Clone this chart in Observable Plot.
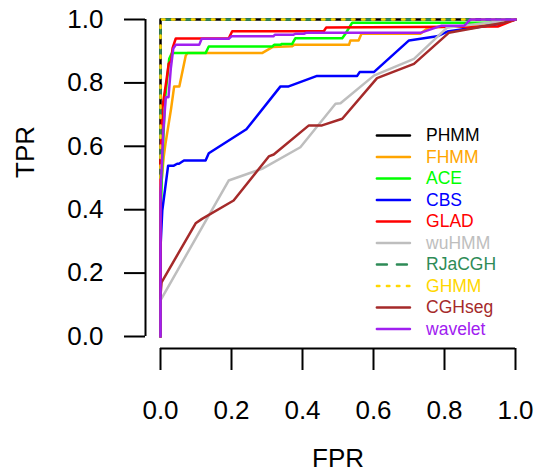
<!DOCTYPE html>
<html>
<head>
<meta charset="utf-8">
<script src="https://cdn.jsdelivr.net/npm/d3@7"></script>
<script src="https://cdn.jsdelivr.net/npm/@observablehq/plot@0.6"></script>
<style>
  html, body { margin: 0; padding: 0; background: #fff; }
</style>
</head>
<body>
<div id="chart"></div>
<script>
// ---- data ----
const methods = ["PHMM", "FHMM", "ACE", "CBS", "GLAD", "wuHMM", "RJaCGH", "GHMM", "CGHseg", "wavelet"];
const ticks = [0, 0.2, 0.4, 0.6, 0.8, 1.0];

const phmmFPR = [0, 0, 1];
const phmmTPR = [0.5, 1, 1];

const fhmmFPR = [0, 0, 0.009, 0.014, 0.03, 0.0385, 0.053, 0.071, 0.076, 0.286, 0.315, 0.371, 0.376, 0.531, 0.535, 0.558, 0.566, 0.732, 0.755, 0.9, 0.93, 0.96, 1];
const fhmmTPR = [0, 0.45, 0.566, 0.608, 0.72, 0.789, 0.789, 0.886, 0.894, 0.894, 0.913, 0.916, 0.92, 0.92, 0.934, 0.934, 0.955, 0.955, 0.975, 0.98, 0.99, 0.995, 1];

const aceFPR = [0, 0, 0.005, 0.013, 0.0245, 0.032, 0.127, 0.136, 0.315, 0.32, 0.338, 0.342, 0.371, 0.38, 0.512, 0.521, 0.54, 0.93, 0.95, 1];
const aceTPR = [0, 0.35, 0.55, 0.751, 0.876, 0.894, 0.894, 0.915, 0.915, 0.92, 0.92, 0.923, 0.923, 0.941, 0.941, 0.955, 0.99, 0.99, 1, 1];

const cbsFPR = [0, 0, 0.005, 0.0215, 0.0375, 0.047, 0.052, 0.066, 0.127, 0.136, 0.242, 0.338, 0.361, 0.441, 0.554, 0.561, 0.601, 0.70, 0.779, 0.808, 0.95, 1];
const cbsTPR = [0, 0.28, 0.397, 0.539, 0.539, 0.545, 0.545, 0.555, 0.555, 0.578, 0.654, 0.789, 0.789, 0.822, 0.822, 0.834, 0.834, 0.934, 0.947, 0.962, 0.985, 1];

const gladFPR = [0, 0, 0.005, 0.017, 0.023, 0.03, 0.034, 0.043, 0.192, 0.202, 0.46, 0.467, 0.95, 1];
const gladTPR = [0, 0.55, 0.72, 0.81, 0.86, 0.87, 0.91, 0.94, 0.94, 0.963, 0.963, 0.975, 0.978, 1];

const wuhmmFPR = [0, 0, 0.192, 0.286, 0.394, 0.493, 0.507, 0.601, 0.714, 0.808, 1];
const wuhmmTPR = [0, 0.114, 0.492, 0.529, 0.597, 0.734, 0.736, 0.823, 0.876, 0.975, 1];

const rjacghFPR = [0, 0, 1];
const rjacghTPR = [0.5, 1, 1];

const ghmmFPR = [0, 0, 1];
const ghmmTPR = [0.5, 1, 1];

const cghsegFPR = [0, 0, 0.003, 0.099, 0.117, 0.206, 0.305, 0.319, 0.418, 0.455, 0.512, 0.61, 0.714, 0.812, 0.967, 1];
const cghsegTPR = [0, 0.13, 0.171, 0.357, 0.371, 0.429, 0.568, 0.574, 0.666, 0.666, 0.687, 0.815, 0.86, 0.958, 0.99, 1];

const waveletFPR = [0, 0, 0.008, 0.015, 0.0225, 0.029, 0.036, 0.043, 0.109, 0.116, 0.192, 0.2, 0.318, 0.322, 0.375, 0.38, 0.404, 0.41, 0.732, 0.79, 0.855, 0.873, 1];
const waveletTPR = [0, 0.45, 0.65, 0.755, 0.755, 0.845, 0.908, 0.92, 0.92, 0.939, 0.939, 0.947, 0.947, 0.952, 0.952, 0.955, 0.955, 0.958, 0.958, 0.98, 0.98, 1, 1];

// ---- styles ----
const seriesData = {
  PHMM: [phmmFPR, phmmTPR], FHMM: [fhmmFPR, fhmmTPR], ACE: [aceFPR, aceTPR],
  CBS: [cbsFPR, cbsTPR], GLAD: [gladFPR, gladTPR], wuHMM: [wuhmmFPR, wuhmmTPR],
  RJaCGH: [rjacghFPR, rjacghTPR], GHMM: [ghmmFPR, ghmmTPR],
  CGHseg: [cghsegFPR, cghsegTPR], wavelet: [waveletFPR, waveletTPR]
};
const colors = {
  PHMM: "#000000", FHMM: "#FFA500", ACE: "#00FF00", CBS: "#0000FF", GLAD: "#FF0000",
  wuHMM: "#BEBEBE", RJaCGH: "#2E8B57", GHMM: "#FFD700", CGHseg: "#A52A2A", wavelet: "#A020F0"
};
const dashes = { RJaCGH: "10,10", GHMM: "2.5,7.5" };
const LW = 2.5;
const font = "'Liberation Sans', Arial, Helvetica, sans-serif";

const marks = [];

// data lines
for (const m of methods) {
  const [fx, ty] = seriesData[m];
  const rows = fx.map((x, i) => ({ fpr: x, tpr: ty[i] }));
  marks.push(Plot.line(rows, {
    x: "fpr", y: "tpr", stroke: colors[m], strokeWidth: LW,
    strokeDasharray: dashes[m] || null, strokeLinecap: "round", strokeLinejoin: "round"
  }));
}

// legend (inside the plot area, R-style, no box)
const legX1 = 0.611, legX2 = 0.704, legTX = 0.748, legY0 = 0.634, legStep = 0.0678;
methods.forEach((m, i) => {
  const yy = legY0 - i * legStep;
  marks.push(Plot.ruleY([yy], {
    x1: legX1, x2: legX2, stroke: colors[m], strokeWidth: LW,
    strokeDasharray: dashes[m] || null, strokeLinecap: "round"
  }));
  marks.push(Plot.text([m], {
    x: legTX, y: yy, text: d => d, textAnchor: "start", lineAnchor: "middle",
    fill: colors[m], fontSize: 17.5
  }));
});

// detached R-style axes
marks.push(Plot.ruleX([0], { y1: 0, y2: 1, dx: -15, stroke: "black", strokeWidth: 2 }));
marks.push(Plot.ruleY([0], { x1: 0, x2: 1, dy: 12, stroke: "black", strokeWidth: 2 }));
marks.push(Plot.axisY(ticks, {
  anchor: "left", dx: -15, tickSize: 21, tickPadding: 21, strokeWidth: 2,
  fontSize: 26, tickFormat: d => d.toFixed(1), label: null
}));
marks.push(Plot.axisX(ticks, {
  anchor: "bottom", dy: 12, tickSize: 22, tickPadding: 30.5, strokeWidth: 2,
  fontSize: 26, tickFormat: d => d.toFixed(1), label: null
}));

// axis titles
marks.push(Plot.text(["TPR"], { frameAnchor: "left", dx: -135, rotate: -90, text: d => d, fontSize: 26, fill: "black" }));
marks.push(Plot.text(["FPR"], { frameAnchor: "bottom", dy: 130, text: d => d, fontSize: 26, fill: "black" }));

const chart = Plot.plot({
  width: 535, height: 474,
  marginLeft: 160, marginRight: 20, marginTop: 19, marginBottom: 138,
  x: { domain: [0, 1] },
  y: { domain: [0, 1] },
  style: { fontFamily: font, background: "white", color: "black", overflow: "visible" },
  marks
});
document.getElementById("chart").appendChild(chart);
</script>
</body>
</html>
